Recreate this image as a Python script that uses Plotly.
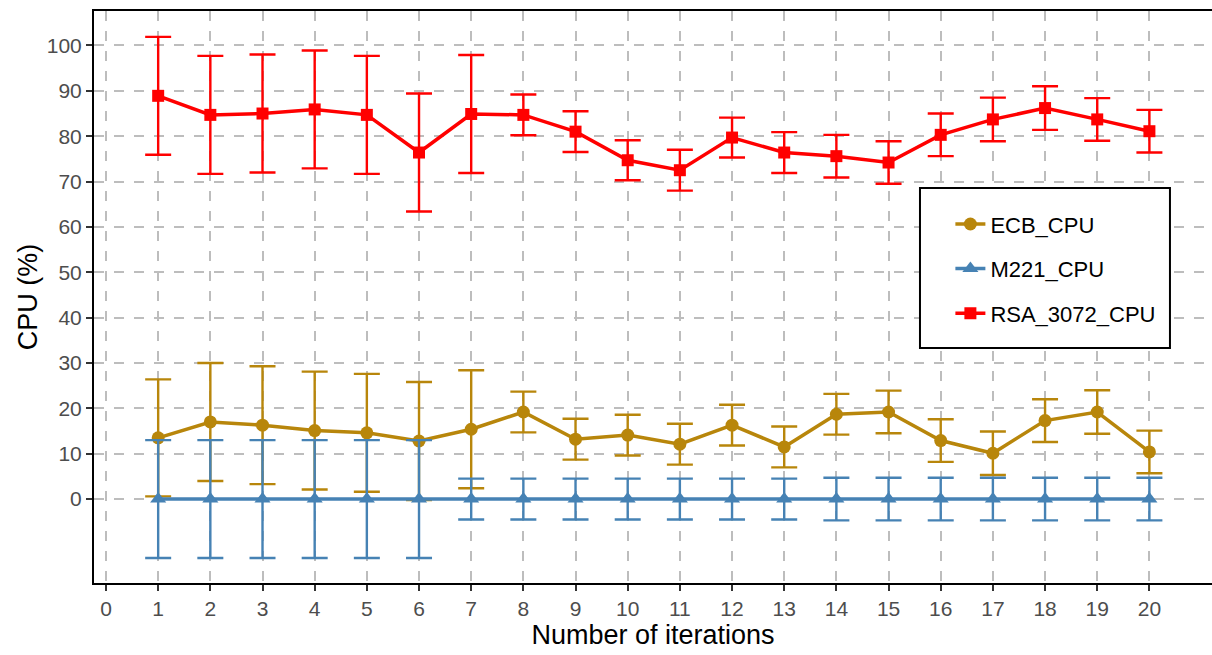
import plotly.graph_objects as go

# Iteration index and per-series CPU usage (mean and standard deviation)
iterations = list(range(1, 21))

ecb_mean = [13.5, 17.0, 16.3, 15.1, 14.6, 12.8, 15.4, 19.2, 13.2, 14.1,
            12.1, 16.3, 11.5, 18.7, 19.2, 12.9, 10.1, 17.3, 19.2, 10.4]
ecb_sd = [12.9, 13.0, 13.0, 13.0, 13.0, 13.0, 13.0, 4.5, 4.5, 4.5,
          4.5, 4.5, 4.5, 4.5, 4.7, 4.7, 4.8, 4.7, 4.8, 4.7]

m221_mean = [0.0] * 20
m221_sd = [13.0, 13.0, 13.0, 13.0, 13.0, 13.0, 4.5, 4.5, 4.5, 4.5,
           4.5, 4.5, 4.5, 4.7, 4.7, 4.7, 4.7, 4.7, 4.7, 4.7]

rsa_mean = [88.9, 84.7, 85.0, 85.9, 84.7, 76.4, 84.9, 84.7, 81.0, 74.7,
            72.5, 79.7, 76.4, 75.6, 74.2, 80.3, 83.7, 86.2, 83.7, 81.1]
rsa_sd = [13.0, 13.0, 13.0, 13.0, 13.0, 13.0, 13.0, 4.5, 4.5, 4.4,
          4.5, 4.4, 4.5, 4.7, 4.7, 4.7, 4.8, 4.8, 4.7, 4.7]

series = [
    ("ECB_CPU", ecb_mean, ecb_sd, "#B8860B", "circle", 13),
    ("M221_CPU", m221_mean, m221_sd, "#4682B4", "triangle-up", 14),
    ("RSA_3072_CPU", rsa_mean, rsa_sd, "#FF0000", "square", 12),
]

x_ticks = list(range(0, 21))
y_ticks = list(range(0, 101, 10))

fig = go.Figure()
for i, (name, mean, sd, color, symbol, msize) in enumerate(series):
    fig.add_trace(go.Scatter(
        x=iterations, y=mean, name=name, mode="lines+markers",
        line=dict(color=color, width=3.5),
        marker=dict(color=color, symbol=symbol, size=msize),
        error_y=dict(type="data", array=sd, visible=True,
                     color=color, thickness=2.4, width=13),
        legendgroup=f"g{i}",
    ))

grid = dict(showgrid=True, gridcolor="#BDBDBD", gridwidth=2, griddash="10px,10px")

fig.update_xaxes(
    range=[-0.23, 21.2], tickmode="array", tickvals=x_ticks,
    ticks="outside", ticklen=6, tickwidth=2, tickcolor="#333333",
    tickfont=dict(family="Liberation Sans, Arial", size=21, color="#4D4D4D"),
    showline=True, linecolor="black", linewidth=2, mirror=True,
    zeroline=False,
    title=dict(text="Number of iterations", standoff=6,
               font=dict(family="Liberation Sans, Arial", size=27, color="black")),
    **grid,
)
fig.update_yaxes(
    range=[-18.5, 107.6], tickmode="array", tickvals=y_ticks,
    ticks="outside", ticklen=6, tickwidth=2, tickcolor="#333333",
    tickfont=dict(family="Liberation Sans, Arial", size=21, color="#4D4D4D"),
    showline=True, linecolor="black", linewidth=2, mirror=False,
    zeroline=False,
    title=dict(text="CPU (%)", standoff=1,
               font=dict(family="Liberation Sans, Arial", size=27, color="black")),
    **grid,
)

# Framed legend box inside the panel
fig.add_shape(type="rect", xref="paper", yref="paper",
              x0=0.7388, x1=0.9624, y0=0.4108, y1=0.6906,
              line=dict(color="black", width=2), fillcolor="white", layer="above")

fig.update_layout(
    width=1212, height=655,
    margin=dict(l=94, r=0, t=11, b=72),
    paper_bgcolor="white", plot_bgcolor="white",
    showlegend=True,
    legend=dict(
        x=0.766, y=0.664, xanchor="left", yanchor="top",
        bgcolor="rgba(0,0,0,0)", borderwidth=0,
        font=dict(family="Liberation Sans, Arial", size=22, color="black"),
        traceorder="grouped", tracegroupgap=13,
    ),
    font=dict(family="Liberation Sans, Arial"),
)

fig.write_html("out.html", config={"displayModeBar": False})
